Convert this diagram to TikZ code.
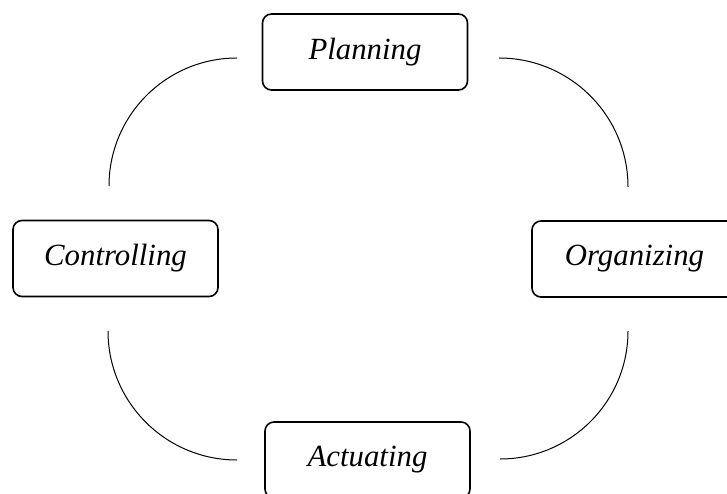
\documentclass[tikz,border=0pt]{standalone}
\usepackage{fontspec}
\setmainfont{Liberation Serif}
\tikzset{
  phase/.style={draw,line width=1.6pt,rounded corners=9pt,minimum width=205pt,minimum height=76pt,inner sep=0pt,font=\fontsize{30.8}{36}\selectfont\itshape},
  link/.style={line width=1pt}
}
\begin{document}
\begin{tikzpicture}[x=1pt,y=1pt]
\useasboundingbox (0,0) rectangle (727,493);
\node[phase] (plan) at(365,441){Planning};
\node[phase] (ctrl) at(115.5,234.5){Controlling};
\node[phase] (org) at(634.5,234){Organizing};
\node[phase] (act) at(367.5,33){Actuating};
\coordinate (tl) at(237,435);
\coordinate (tr) at(499,435);
\coordinate (bl) at(108,162);
\coordinate (br) at(628,162);
\draw[link] (tl) arc[start angle=90,end angle=180,radius=128];
\draw[link] (tr) arc[start angle=90,end angle=0,radius=129];
\draw[link] (bl) arc[start angle=180,end angle=270,radius=129];
\draw[link] (br) arc[start angle=0,end angle=-90,radius=128];
\end{tikzpicture}
\end{document}
